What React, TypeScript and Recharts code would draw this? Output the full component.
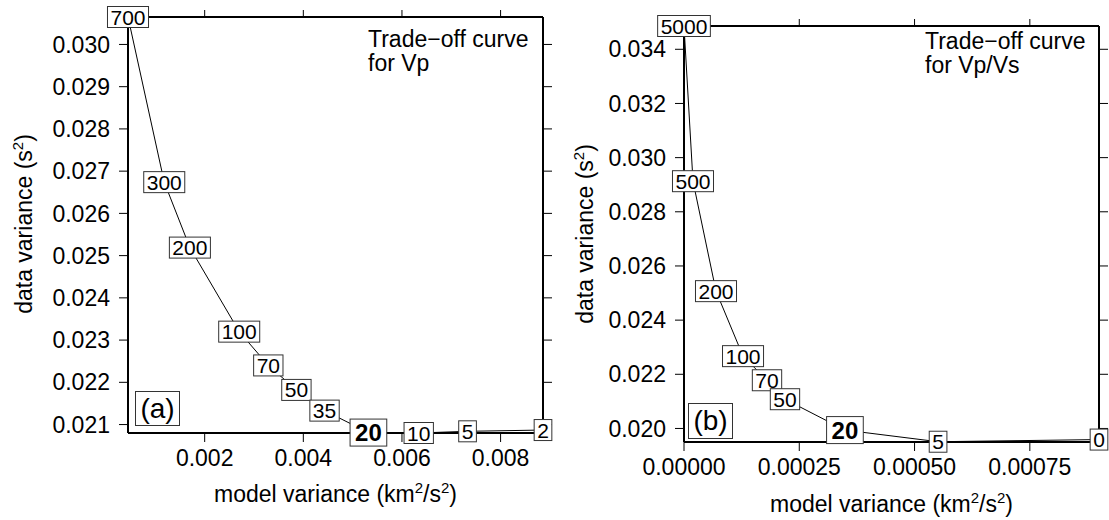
import { LineChart, Line, XAxis, YAxis, Label } from "recharts"

const FONT = '"Liberation Sans", Arial, Helvetica, sans-serif'

// panel (a): trade-off curve for Vp
const dampingA = ["700", "300", "200", "100", "70", "50", "35", "20", "10", "5", "2"]
const modelVarA = [0.000445, 0.00118, 0.0017, 0.0027, 0.00329, 0.00386, 0.00443, 0.00532, 0.00634, 0.00733, 0.00886]
const dataVarA = [0.03065, 0.02674, 0.02519, 0.0232, 0.0224, 0.02182, 0.02133, 0.02081, 0.0208, 0.02084, 0.02087]
const xTicksA = [0.002, 0.004, 0.006, 0.008]
const yTicksA = [0.021, 0.022, 0.023, 0.024, 0.025, 0.026, 0.027, 0.028, 0.029, 0.03]

// panel (b): trade-off curve for Vp/Vs
const dampingB = ["5000", "500", "200", "100", "70", "50", "20", "5", "0"]
const modelVarB = [0.0, 0.0000195, 0.0000694, 0.000128, 0.00018, 0.000219, 0.000349, 0.000551, 0.0009]
const dataVarB = [0.03486, 0.02913, 0.02507, 0.02267, 0.02178, 0.02108, 0.01994, 0.01951, 0.01959]
const xTicksB = [0, 0.00025, 0.0005, 0.00075]
const yTicksB = [0.02, 0.022, 0.024, 0.026, 0.028, 0.03, 0.032, 0.034]

const BEST = "20"

const tickStyle = { fill: "#000", fontSize: 23, fontFamily: FONT }
const axisLine = { stroke: "#000", strokeWidth: 2 }
const tickLine = { stroke: "#000", strokeWidth: 1 }
// ticks on the frame's top/right sides carry no text
const noText = () => <g />

function makeDot(labels: string[]) {
    return (props: any) => {
        const { cx, cy, index } = props
        const text = labels[index]
        const bold = text === BEST
        const fs = bold ? 24 : 21
        const w = text.length * fs * 0.556 + (bold ? 10 : 6)
        const h = bold ? 27 : 21
        return (
            <g key={`lbl-${index}`}>
                <rect x={cx - w / 2} y={cy - h / 2} width={w} height={h} fill="#fff" stroke="#333" strokeWidth={1} />
                <text
                    x={cx}
                    y={cy}
                    dy="0.36em"
                    textAnchor="middle"
                    fontSize={fs}
                    fontWeight={bold ? 700 : 400}
                    fontFamily={FONT}
                    fill="#000"
                >
                    {text}
                </text>
            </g>
        )
    }
}

interface PanelProps {
    left: number
    width: number
    labels: string[]
    xs: number[]
    ys: number[]
    xDomain: [number, number]
    yDomain: [number, number]
    xTicks: number[]
    yTicks: number[]
    xDigits: number
    topH: number
    bottomH: number
    leftW: number
    rightW: number
    yLabelX: number
    yLabelY: number
    xLabelY: number
}

function Panel(p: PanelProps) {
    const data = p.xs.map((x, i) => ({ x, y: p.ys[i] }))
    const plotCx = p.leftW + (p.width - p.leftW - p.rightW) / 2
    return (
        <div style={{ position: "absolute", left: p.left, top: 0 }}>
            <LineChart width={p.width} height={520} data={data} margin={{ top: 0, right: 0, bottom: 0, left: 0 }}>
                <XAxis
                    xAxisId="bottom"
                    type="number"
                    dataKey="x"
                    domain={p.xDomain}
                    ticks={p.xTicks}
                    interval={0}
                    height={p.bottomH}
                    tickSize={9}
                    tickMargin={8}
                    axisLine={axisLine}
                    tickLine={tickLine}
                    tick={tickStyle}
                    tickFormatter={(v: number) => v.toFixed(p.xDigits)}
                >
                    <Label
                        content={() => (
                            <text x={plotCx} y={p.xLabelY} textAnchor="middle" fontSize={23} fontFamily={FONT} fill="#000">
                                model variance (km<tspan dy={-9} fontSize={15}>2</tspan>
                                <tspan dy={9}>/s</tspan>
                                <tspan dy={-9} fontSize={15}>2</tspan>
                                <tspan dy={9}>)</tspan>
                            </text>
                        )}
                    />
                </XAxis>
                <XAxis
                    xAxisId="top"
                    orientation="top"
                    type="number"
                    dataKey="x"
                    domain={p.xDomain}
                    ticks={p.xTicks}
                    interval={0}
                    height={p.topH}
                    tickSize={7}
                    axisLine={axisLine}
                    tickLine={tickLine}
                    tick={noText}
                />
                <YAxis
                    yAxisId="left"
                    type="number"
                    domain={p.yDomain}
                    ticks={p.yTicks}
                    interval={0}
                    width={p.leftW}
                    tickSize={9}
                    tickMargin={9}
                    axisLine={axisLine}
                    tickLine={tickLine}
                    tick={tickStyle}
                    tickFormatter={(v: number) => v.toFixed(3)}
                >
                    <Label
                        content={() => (
                            <text
                                x={p.yLabelX}
                                y={p.yLabelY}
                                transform={`rotate(-90 ${p.yLabelX} ${p.yLabelY})`}
                                textAnchor="middle"
                                fontSize={23}
                                fontFamily={FONT}
                                fill="#000"
                            >
                                data variance (s<tspan dy={-9} fontSize={15}>2</tspan>
                                <tspan dy={9}>)</tspan>
                            </text>
                        )}
                    />
                </YAxis>
                <YAxis
                    yAxisId="right"
                    orientation="right"
                    type="number"
                    domain={p.yDomain}
                    ticks={p.yTicks}
                    interval={0}
                    width={p.rightW}
                    tickSize={9}
                    axisLine={axisLine}
                    tickLine={tickLine}
                    tick={noText}
                />
                {/* invisible twin so the top/right frame axes get a scale and draw their ticks */}
                <Line
                    xAxisId="top"
                    yAxisId="right"
                    type="linear"
                    dataKey="y"
                    stroke="none"
                    dot={false}
                    activeDot={false}
                    isAnimationActive={false}
                />
                <Line
                    xAxisId="bottom"
                    yAxisId="left"
                    type="linear"
                    dataKey="y"
                    stroke="#000"
                    strokeWidth={1}
                    dot={makeDot(p.labels)}
                    activeDot={false}
                    isAnimationActive={false}
                />
            </LineChart>
        </div>
    )
}

const titleStyle: React.CSSProperties = {
    position: "absolute",
    fontFamily: FONT,
    fontSize: 23,
    lineHeight: "24px",
    color: "#000",
    whiteSpace: "nowrap",
}

const tagStyle: React.CSSProperties = {
    position: "absolute",
    boxSizing: "border-box",
    border: "1px solid #333",
    background: "#fff",
    fontFamily: FONT,
    fontSize: 28,
    textAlign: "center",
    color: "#000",
}

export default function App() {
    return (
        <div style={{ position: "absolute", left: 0, top: 0, width: 1109, height: 520, background: "#fff" }}>
            <Panel
                left={0}
                width={560}
                labels={dampingA}
                xs={modelVarA}
                ys={dataVarA}
                xDomain={[0.000445, 0.00886]}
                yDomain={[0.0208, 0.03065]}
                xTicks={xTicksA}
                yTicks={yTicksA}
                xDigits={3}
                topH={17}
                bottomH={87}
                leftW={128}
                rightW={17}
                yLabelX={32}
                yLabelY={224}
                xLabelY={502}
            />
            <Panel
                left={560}
                width={549}
                labels={dampingB}
                xs={modelVarB}
                ys={dataVarB}
                xDomain={[0, 0.0009]}
                yDomain={[0.0195, 0.03486]}
                xTicks={xTicksB}
                yTicks={yTicksB}
                xDigits={5}
                topH={26}
                bottomH={78}
                leftW={124}
                rightW={10}
                yLabelX={33}
                yLabelY={234}
                xLabelY={512}
            />
            <div style={{ ...titleStyle, left: 368, top: 27 }}>
                Trade−off curve
                <br />
                for Vp
            </div>
            <div style={{ ...titleStyle, left: 925, top: 29 }}>
                Trade−off curve
                <br />
                for Vp/Vs
            </div>
            <div style={{ ...tagStyle, left: 135, top: 391, width: 45, height: 35, lineHeight: "33px" }}>(a)</div>
            <div style={{ ...tagStyle, left: 688, top: 403, width: 45, height: 36, lineHeight: "34px" }}>(b)</div>
        </div>
    )
}
